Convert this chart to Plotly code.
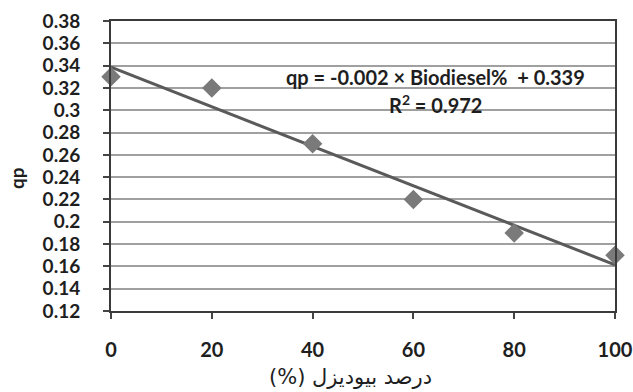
import numpy as np
import plotly.graph_objects as go

# Biodiesel share in the blend (%) and measured qp
biodiesel_pct = [0, 20, 40, 60, 80, 100]
qp_values = [0.33, 0.32, 0.27, 0.22, 0.19, 0.17]

y_ticks = [0.12, 0.14, 0.16, 0.18, 0.2, 0.22, 0.24, 0.26, 0.28, 0.3, 0.32, 0.34, 0.36, 0.38]
y_tick_text = ["0.12", "0.14", "0.16", "0.18", "0.2", "0.22", "0.24", "0.26", "0.28", "0.3",
               "0.32", "0.34", "0.36", "0.38"]
x_ticks = [0, 20, 40, 60, 80, 100]

# Linear least-squares trend line
x = np.array(biodiesel_pct, dtype=float)
y = np.array(qp_values, dtype=float)
slope, intercept = np.polyfit(x, y, 1)
fit = slope * x + intercept
r2 = 1 - np.sum((y - fit) ** 2) / np.sum((y - y.mean()) ** 2)
x_line = np.array([x.min(), x.max()])
y_line = slope * x_line + intercept

bold_font = "Lato, 'Open Sans', sans-serif"
text_color = "#1e1e1e"

W, H = 633, 392
L, R, T, B = 111, 18, 21, 81
pw, ph = W - L - R, H - T - B


def px(xp, yp):
    """Pixel position in the page -> paper coordinates."""
    return (xp - L) / pw, 1 - (yp - T) / ph


fig = go.Figure()
fig.add_trace(go.Scatter(
    x=x_line, y=y_line, mode="lines",
    line=dict(color="#5a5a5a", width=3),
    hoverinfo="skip", showlegend=False, cliponaxis=False,
))
fig.add_trace(go.Scatter(
    x=biodiesel_pct, y=qp_values, mode="markers",
    marker=dict(symbol="diamond", size=15, color="#7a7a7a"),
    showlegend=False, cliponaxis=False,
))

annotations = [
    (435, 77, f"qp = {slope:.3f} × Biodiesel%  + {intercept:.3f}",
     dict(family=bold_font, size=20, color=text_color, weight="bold"), 0),
    (435, 104, f"R<sup>2</sup> = {r2:.3f}",
     dict(family=bold_font, size=20, color=text_color, weight="bold"), 0),
    (350, 377, "\u202bدرصد بیودیزل (%)\u202c",
     dict(family="'DejaVu Sans', serif", size=21, color=text_color), 0),
    (16, 178, "qp",
     dict(family=bold_font, size=19, color=text_color, weight="bold"), -90),
]
for xp, yp, txt, fnt, ang in annotations:
    ax, ay = px(xp, yp)
    fig.add_annotation(
        x=ax, y=ay, xref="paper", yref="paper", xanchor="center", yanchor="middle",
        showarrow=False, text=txt, font=fnt, textangle=ang,
    )

fig.update_layout(
    width=W, height=H,
    margin=dict(l=L, r=R, t=T, b=B, autoexpand=False),
    paper_bgcolor="white", plot_bgcolor="white",
)
fig.update_xaxes(
    range=[0, 100], tickvals=x_ticks, ticks="outside", ticklen=6, tickwidth=2,
    tickcolor="#444444", ticklabelstandoff=14, automargin=False,
    ticklabeloverflow="allow",
    showline=True, linecolor="#3a3a3a", linewidth=2, mirror=True,
    showgrid=False, zeroline=False,
    tickfont=dict(family=bold_font, size=20, color=text_color, weight="bold"),
)
fig.update_yaxes(
    range=[0.12, 0.38], tickvals=y_ticks, ticktext=y_tick_text,
    ticks="outside", ticklen=6, tickwidth=2, tickcolor="#444444",
    ticklabelstandoff=19, automargin=False,
    showline=True, linecolor="#3a3a3a", linewidth=2, mirror=True,
    showgrid=True, gridcolor="#a0a0a0", gridwidth=2, zeroline=False,
    tickfont=dict(family=bold_font, size=19, color=text_color, weight="bold"),
)

fig.write_html("out.html")
